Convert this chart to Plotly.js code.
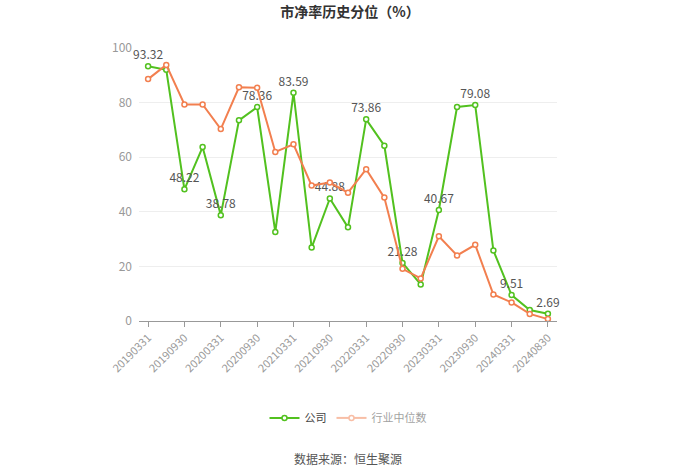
<!DOCTYPE html>
<html><head><meta charset="utf-8">
<script src="https://cdn.plot.ly/plotly-3.0.1.min.js"></script>
<style>html,body{margin:0;padding:0;background:#fff}#chart{width:700px;height:474px}</style>
</head><body><div id="chart"></div>
<script>
const categories = ["20190331","20190630","20190930","20191231","20200331","20200630","20200930","20201231","20210331","20210630","20210930","20211231","20220331","20220630","20220930","20221231","20230331","20230630","20230930","20231231","20240331","20240630","20240830"];
const company = [93.32,92.0,48.22,63.7,38.78,73.5,78.36,32.6,83.59,26.9,44.88,34.3,73.86,64.2,21.28,13.4,40.67,78.4,79.08,25.8,9.51,4.0,2.69];
const industry = [88.6,93.8,79.3,79.3,70.3,85.6,85.4,61.9,64.7,49.6,50.7,47.0,55.6,45.2,19.1,15.6,31.0,24.0,27.9,9.7,6.8,2.6,0.7];
const tickLabels = ["20190331","20190930","20200331","20200930","20210331","20210930","20220331","20220930","20230331","20230930","20240331","20240830"];
const labelIdx = [0,2,4,6,8,10,12,14,16,18,20,22];

const FONT = '"Noto Sans CJK SC", "Noto Sans", sans-serif';
const labelText = company.map((v,i)=> labelIdx.includes(i) ? v.toFixed(2) : '');
const GREEN = '#52c11f', ORANGE = '#f27f4f';

const traces = [
  {x: categories, y: company, name: '公司', type: 'scatter', mode: 'lines+markers+text',
   line: {color: GREEN, width: 2},
   marker: {symbol: 'circle', size: 5, color: '#ffffff', line: {color: GREEN, width: 1.5}},
   text: labelText, textposition: 'top center', textfont: {family: FONT, size: 12, color: '#555555'},
   cliponaxis: false, hoverinfo: 'x+y'},
  {x: categories, y: industry, name: '行业中位数', type: 'scatter', mode: 'lines+markers',
   line: {color: ORANGE, width: 2}, showlegend: false,
   marker: {symbol: 'circle', size: 5, color: '#ffffff', line: {color: ORANGE, width: 1.5}},
   cliponaxis: false, hoverinfo: 'x+y'},
  {x: categories, y: industry, name: '行业中位数', type: 'scatter', mode: 'lines+markers',
   visible: 'legendonly',
   line: {color: ORANGE, width: 2},
   marker: {symbol: 'circle', size: 5, color: '#ffffff', line: {color: ORANGE, width: 1.5}}}
];

const layout = {
  width: 700, height: 474,
  margin: {l: 139, r: 143, t: 48, b: 153},
  paper_bgcolor: '#ffffff', plot_bgcolor: '#ffffff',
  font: {family: FONT, color: '#555555'},
  title: {text: '<b>市净率历史分位（%）</b>', font: {family: FONT, size: 14, color: '#333333'},
          x: 0.5, xanchor: 'center', y: 0.975, yanchor: 'middle'},
  xaxis: {type: 'category', range: [-0.5, 22.5], tickmode: 'array', tickvals: tickLabels, ticktext: tickLabels,
          tickangle: -45, tickfont: {family: FONT, size: 11, color: '#999999'},
          showgrid: false, showline: true, linecolor: '#999999', linewidth: 1,
          ticks: 'outside', ticklen: 5, tickcolor: '#999999', zeroline: false, fixedrange: true},
  yaxis: {range: [0, 100], tickvals: [0,20,40,60,80,100], tickfont: {family: FONT, size: 12, color: '#999999'},
          showgrid: true, gridcolor: '#eeeeee', gridwidth: 1, zeroline: false, showline: false, ticks: '',
          ticklabelstandoff: 6, fixedrange: true},
  showlegend: true,
  legend: {orientation: 'h', x: 0.5, xanchor: 'center', y: -0.355, yanchor: 'middle',
           font: {family: FONT, size: 11, color: '#444444'}, itemwidth: 30},
  annotations: [{text: '数据来源：恒生聚源', xref: 'paper', yref: 'paper', x: 0.5, y: -0.502,
                 xanchor: 'center', yanchor: 'middle', showarrow: false,
                 font: {family: FONT, size: 12, color: '#555555'}}]
};
Plotly.newPlot('chart', traces, layout, {displayModeBar: false, staticPlot: true});
</script></body></html>
